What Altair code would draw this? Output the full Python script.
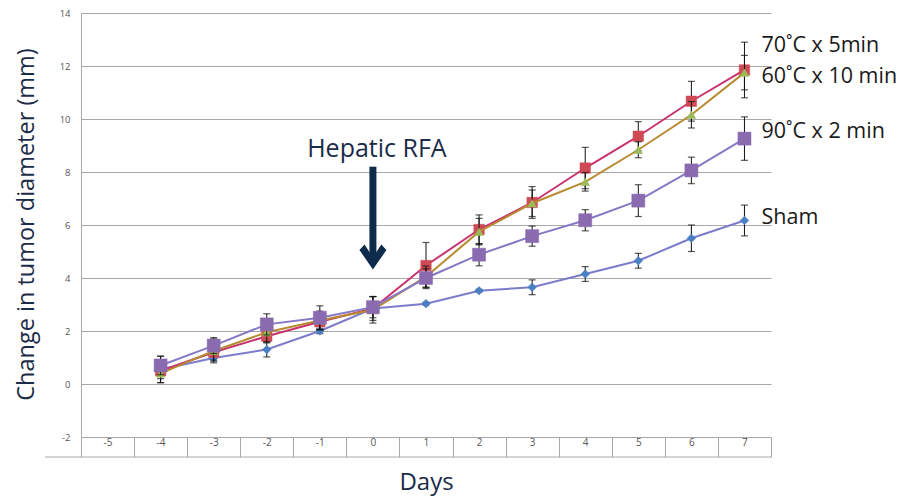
import altair as alt
import pandas as pd

# ---------------- data ----------------
days = [-4, -3, -2, -1, 0, 1, 2, 3, 4, 5, 6, 7]
category_days = [-5, -4, -3, -2, -1, 0, 1, 2, 3, 4, 5, 6, 7]
y_ticks = [-2, 0, 2, 4, 6, 8, 10, 12, 14]

series_names = ["Sham", "70˚C x 5min", "60˚C x 10 min", "90˚C x 2 min"]

sham_mean = [0.55, 0.98, 1.30, 2.00, 2.85, 3.03, 3.52, 3.65, 4.15, 4.65, 5.50, 6.17]
sham_err = [0.50, 0.12, 0.28, 0.10, 0.10, 0.05, 0.05, 0.28, 0.28, 0.28, 0.50, 0.58]
c70_mean = [0.50, 1.20, 1.80, 2.35, 2.85, 4.47, 5.83, 6.85, 8.15, 9.35, 10.67, 11.85]
c70_err = [0.30, 0.30, 0.25, 0.30, 0.45, 0.87, 0.55, 0.60, 0.78, 0.55, 0.75, 1.05]
c60_mean = [0.40, 1.25, 1.95, 2.40, 2.80, 4.05, 5.75, 6.82, 7.63, 8.84, 10.16, 11.75]
c60_err = [0.35, 0.45, 0.35, 0.35, 0.50, 0.40, 0.50, 0.50, 0.35, 0.30, 0.50, 0.65]
c90_mean = [0.70, 1.45, 2.25, 2.50, 2.90, 4.00, 4.88, 5.58, 6.18, 6.92, 8.06, 9.26]
c90_err = [0.35, 0.30, 0.40, 0.45, 0.40, 0.35, 0.42, 0.38, 0.40, 0.60, 0.50, 0.82]

means = [sham_mean, c70_mean, c60_mean, c90_mean]
errs = [sham_err, c70_err, c60_err, c90_err]

# series label positions (y value at right end)
label_y = [6.28, 12.74, 11.58, 9.51]
label_x = 7

annotation_text = "Hepatic RFA"
annotation_day = 0
annotation_text_y = 8.87
arrow_top = 8.2
arrow_head_y = 4.83

# ---------------- styles ----------------
NAVY = "#1B2B48"
GRID = "#A8A8A8"
FONT = "Open Sans"
styles = {
    "Sham": dict(line="#7C7CCB", fill="#4A7FC4", shape="diamond", size=75),
    "70˚C x 5min": dict(line="#C8326E", fill="#D04A55", shape="square", size=110),
    "60˚C x 10 min": dict(line="#B88A30", fill="#9BBB59", shape="triangle-up", size=75),
    "90˚C x 2 min": dict(line="#8579C6", fill="#8A6BB0", shape="square", size=170),
}

PLOT_W = 690
PLOT_H = 424

x_scale = alt.Scale(domain=[-5.5, 7.5], nice=False, zero=False)
y_scale = alt.Scale(domain=[-2, 14], nice=False, zero=False)

boundaries = [d - 0.5 for d in category_days] + [category_days[-1] + 0.5]

x_axis = alt.Axis(
    values=boundaries,
    grid=False,
    domain=False,
    ticks=True,
    tickSize=20,
    tickColor=GRID,
    tickWidth=1,
    labelExpr="datum.value < 7 ? '' + (datum.value + 0.5) : ''",
    labelOffset=26.5,
    labelPadding=-15,
    labelBaseline="middle",
    labelFontSize=10,
    labelColor="#555555",
    labelFont=FONT,
    labelOverlap=False,
    labelFlush=False,
    labelBound=False,
    title="Days",
    titleFont=FONT,
    titleFontSize=24,
    titleFontWeight="normal",
    titleColor=NAVY,
    titleBaseline="alphabetic",
    titleX=345,
    titleY=52,
)

y_axis = alt.Axis(
    values=y_ticks,
    grid=True,
    gridColor=GRID,
    gridWidth=1,
    domain=True,
    domainColor=GRID,
    ticks=False,
    labelPadding=11,
    labelExpr="'' + datum.value",
    labelFontSize=9.5,
    labelColor="#555555",
    labelFont=FONT,
    title="Change in tumor diameter (mm)",
    titleFont=FONT,
    titleFontSize=23.5,
    titleFontWeight="normal",
    titleColor=NAVY,
    titleBaseline="alphabetic",
    titleAngle=270,
    titleX=-48,
    titleY=211,
)

X = lambda f: alt.X(f, type="quantitative", scale=x_scale, axis=x_axis)
Y = lambda f: alt.Y(f, type="quantitative", scale=y_scale, axis=y_axis)

layers = []

# bottom line of the category row
layers.append(
    alt.Chart(pd.DataFrame({"k": [0]}))
    .mark_rule(color=GRID, strokeWidth=1)
    .encode(x=alt.value(-36), x2=alt.value(PLOT_W), y=alt.value(PLOT_H + 20))
)

for name, m, e in zip(series_names, means, errs):
    st = styles[name]
    df = pd.DataFrame({
        "day": days,
        "mean": m,
        "lo": [a - b for a, b in zip(m, e)],
        "hi": [a + b for a, b in zip(m, e)],
    })
    base = alt.Chart(df)
    layers.append(base.mark_line(color=st["line"], strokeWidth=2).encode(x=X("day"), y=Y("mean")))
    layers.append(base.mark_rule(color="#111111", strokeWidth=1).encode(x=X("day"), y=Y("lo"), y2="hi"))
    layers.append(base.mark_tick(color="#111111", orient="horizontal", size=7, thickness=1.2).encode(x=X("day"), y=Y("lo")))
    layers.append(base.mark_tick(color="#111111", orient="horizontal", size=7, thickness=1.2).encode(x=X("day"), y=Y("hi")))
    layers.append(
        base.mark_point(filled=True, shape=st["shape"], size=st["size"], color=st["fill"], opacity=1,
                        stroke=st["fill"], strokeWidth=0.5)
        .encode(x=X("day"), y=Y("mean"))
    )

# series labels
lab_df = pd.DataFrame({"name": series_names, "y": label_y, "x": [label_x] * 4})
layers.append(
    alt.Chart(lab_df)
    .mark_text(align="left", baseline="middle", dx=17, fontSize=21.5, font=FONT, color="#1A1A1A")
    .encode(x=X("x"), y=Y("y"), text="name:N")
)

# annotation arrow
arr_df = pd.DataFrame({"x": [annotation_day], "top": [arrow_top], "bot": [arrow_head_y - 0.05],
                       "head": [arrow_head_y], "ty": [annotation_text_y], "t": [annotation_text]})
layers.append(
    alt.Chart(arr_df).mark_rule(color="#0F2B4C", strokeWidth=7, strokeCap="butt")
    .encode(x=X("x"), y=Y("top"), y2="bot")
)
layers.append(
    alt.Chart(arr_df).mark_point(
        filled=True, opacity=1, color="#0F2B4C", size=729,
        shape="M0,1L-1,-0.45L-0.62,-0.85L0,0.1L0.62,-0.85L1,-0.45Z",
    ).encode(x=X("x"), y=Y("head"))
)
layers.append(
    alt.Chart(arr_df).mark_text(align="center", baseline="middle", dx=4, fontSize=25, font=FONT, color=NAVY)
    .encode(x=X("x"), y=Y("ty"), text="t:N")
)

chart = (
    alt.layer(*layers)
    .properties(
        width=PLOT_W,
        height=PLOT_H,
        autosize=alt.AutoSizeParams(type="none"),
        padding={"left": 73, "top": 5, "right": 129, "bottom": 59},
    )
    .configure_view(stroke=None)
)

chart.save("out.html", embed_options={"renderer": "svg", "actions": False})
